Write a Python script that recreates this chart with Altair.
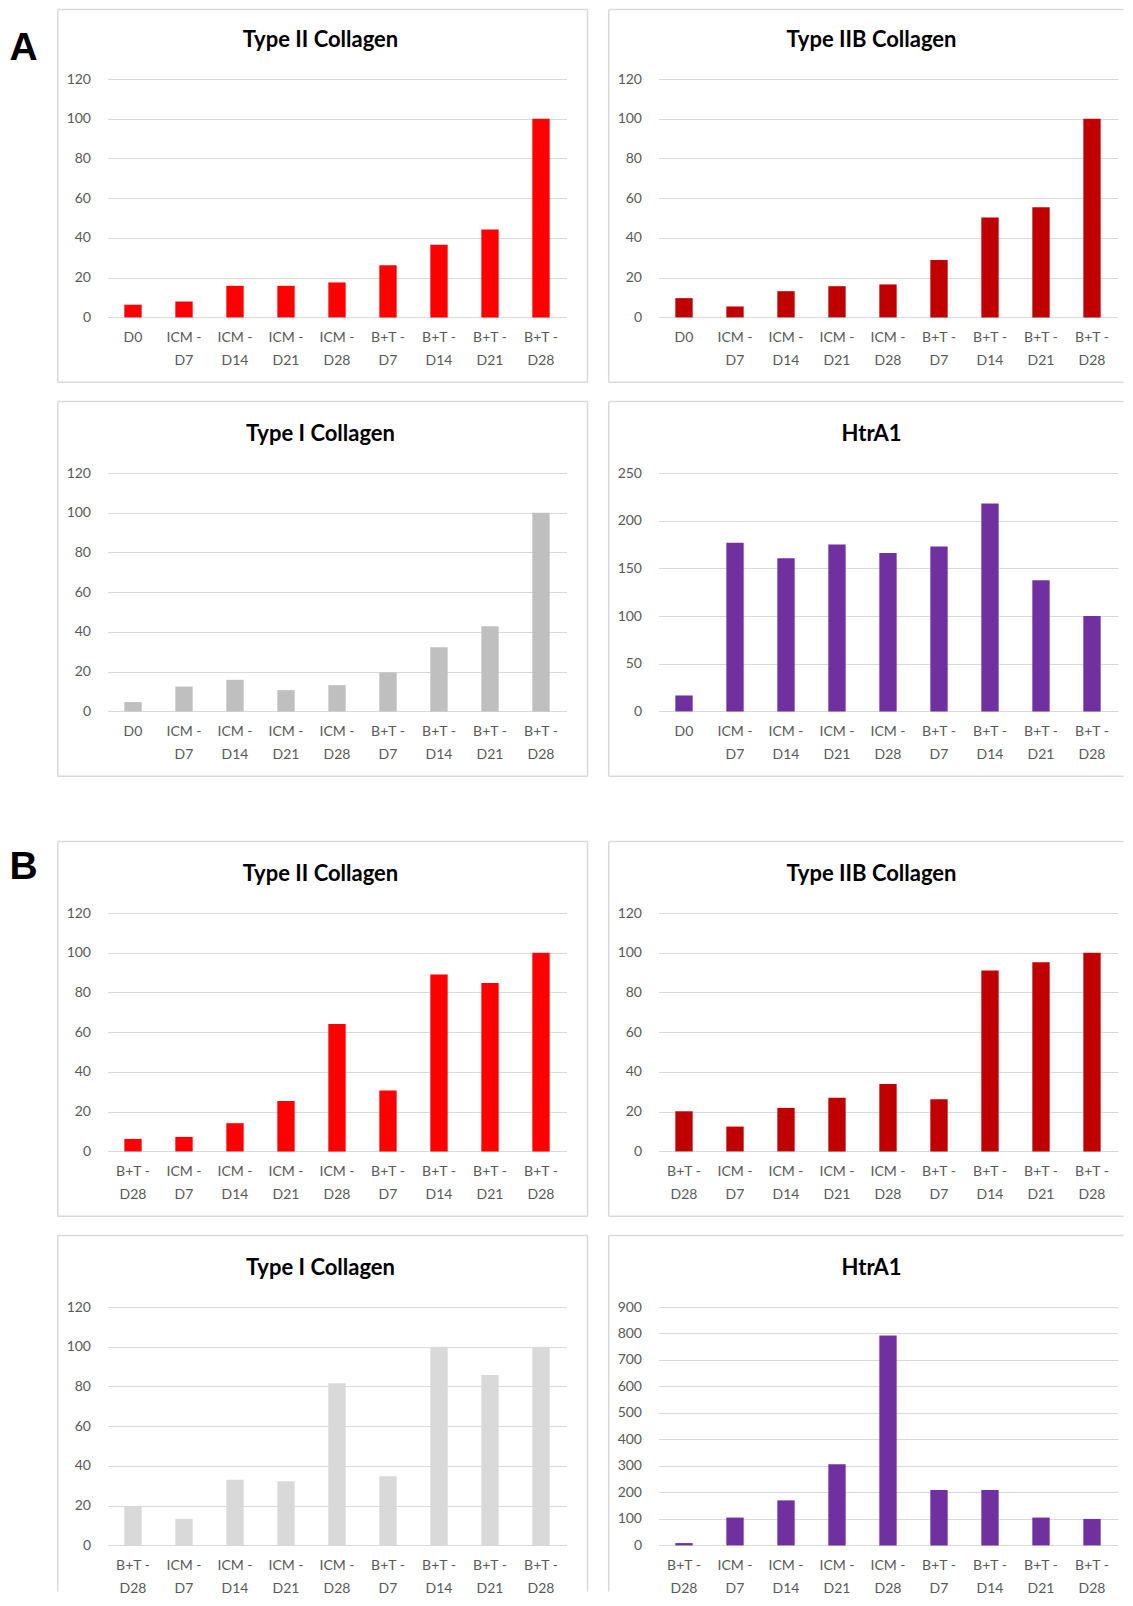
import json
import altair as alt
import pandas as pd

# ---------------- data ----------------
cats_A = ["D0", "ICM -|D7", "ICM -|D14", "ICM -|D21", "ICM -|D28",
          "B+T -|D7", "B+T -|D14", "B+T -|D21", "B+T -|D28"]
cats_B = ["B+T -|D28", "ICM -|D7", "ICM -|D14", "ICM -|D21", "ICM -|D28",
          "B+T -|D7", "B+T -|D14", "B+T -|D21", "B+T -|D28"]

A_col2 = [6.4, 8.0, 15.9, 15.9, 17.6, 26.3, 36.6, 44.3, 100]
A_col2b = [9.7, 5.5, 13.2, 15.7, 16.6, 28.9, 50.3, 55.5, 100]
A_col1 = [4.7, 12.5, 15.9, 10.7, 13.2, 19.6, 32.3, 42.8, 100]
A_htra1 = [16.7, 176.9, 160.5, 175.1, 166.1, 173.0, 218.0, 137.5, 100]

B_col2 = [6.3, 7.3, 14.2, 25.4, 64.1, 30.7, 89.1, 84.8, 100]
B_col2b = [20.2, 12.5, 21.9, 27.0, 33.9, 26.2, 91.0, 95.2, 100]
B_col1 = [19.7, 13.4, 33.1, 32.3, 81.6, 34.8, 100, 85.8, 100]
B_htra1 = [8.8, 105, 170, 306, 792, 209, 209, 105, 100]

RED = "#FF0000"
DARKRED = "#C00000"
GRAY_A = "#BFBFBF"
GRAY_B = "#D9D9D9"
PURPLE = "#7030A0"

FRAME = "#D9D9D9"
W_LEFT = 459
W_RIGHT = 465
H = 238.4
LABEL_FONT = "Lato"
LABEL_COLOR = "#595959"

one = pd.DataFrame({"k": [0]})


def vrule(x, y1, y2, color=FRAME, sw=1.5):
    return alt.Chart(one).mark_rule(color=color, strokeWidth=sw).encode(
        x=alt.value(x), y=alt.value(y1), y2=alt.value(y2))


def hrule(x1, x2, y, color=FRAME, sw=1.5):
    return alt.Chart(one).mark_rule(color=color, strokeWidth=sw).encode(
        x=alt.value(x1), x2=alt.value(x2), y=alt.value(y))


def panel(title, labels, values, color, ymax, ystep, right_col, first_row,
          last_row, letter=None, letter_y=None, spacer=False):
    W = W_RIGHT if right_col else W_LEFT
    df = pd.DataFrame({"idx": list(range(len(values))), "value": values})
    label_expr = "split(" + json.dumps(labels) + "[datum.value], '|')"
    xscale = alt.Scale(paddingInner=0.66, paddingOuter=0.33, range=[0, W_LEFT]) \
        if right_col else alt.Scale(paddingInner=0.66, paddingOuter=0.33)
    bars = alt.Chart(df).mark_bar(color=color).encode(
        x=alt.X("idx:O", title=None, sort=None, scale=xscale,
                axis=alt.Axis(labelExpr=label_expr, labelAngle=0, ticks=False,
                              tickSize=0, domain=False, grid=False,
                              labelPadding=13, labelLineHeight=23.4,
                              labelFont=LABEL_FONT, labelFontSize=14,
                              labelColor=LABEL_COLOR, labelBaseline="top",
                              labelOverlap=False)),
        y=alt.Y("value:Q", title=None,
                scale=alt.Scale(domain=[0, ymax], nice=False, zero=True),
                axis=alt.Axis(values=list(range(0, ymax + 1, ystep)),
                              domain=False, ticks=False, tickSize=0, grid=True,
                              gridColor="#D9D9D9", gridWidth=1, labelPadding=17,
                              labelFont=LABEL_FONT, labelFontSize=14,
                              labelColor=LABEL_COLOR)),
    )

    top = -69.6 if first_row else -71.6
    left = -49.8
    bottom = H + 46 if last_row else H + 64.8
    layers = []
    layers.append(vrule(left, top, bottom))
    if right_col:
        layers.append(hrule(left, W, top))
        if not last_row:
            layers.append(hrule(left, W, bottom))
    else:
        right = W + 21
        layers.append(vrule(right, top, bottom))
        layers.append(hrule(left, right, top))
        if not last_row:
            layers.append(hrule(left, right, bottom))

    layers.append(bars)

    ttl = alt.Chart(pd.DataFrame({"t": [title]})).mark_text(
        font=LABEL_FONT, fontWeight="bold", fontSize=22, color="#000000",
        align="center", baseline="middle").encode(
        text="t:N", x=alt.value(213), y=alt.value(-39))
    layers.append(ttl)

    if letter is not None:
        let = alt.Chart(pd.DataFrame({"t": [letter]})).mark_text(
            font="Liberation Sans", fontWeight="bold", fontSize=39,
            color="#000000", align="center", baseline="middle").encode(
            text="t:N", x=alt.value(-83.8), y=alt.value(letter_y))
        layers.append(let)

    if spacer:
        layers.append(hrule(0, 10, -117.85, color="#FFFFFF", sw=1))

    return alt.layer(*layers).properties(width=W, height=H)


panels = [
    panel("Type II Collagen", cats_A, A_col2, RED, 120, 20, False, True, False,
          letter="A", letter_y=-30.8),
    panel("Type IIB Collagen", cats_A, A_col2b, DARKRED, 120, 20, True, True, False),
    panel("Type I Collagen", cats_A, A_col1, GRAY_A, 120, 20, False, False, False),
    panel("HtrA1", cats_A, A_htra1, PURPLE, 250, 50, True, False, False),
    panel("Type II Collagen", cats_B, B_col2, RED, 120, 20, False, False, False,
          letter="B", letter_y=-45.9, spacer=True),
    panel("Type IIB Collagen", cats_B, B_col2b, DARKRED, 120, 20, True, False, False,
          spacer=True),
    panel("Type I Collagen", cats_B, B_col1, GRAY_B, 120, 20, False, False, True),
    panel("HtrA1", cats_B, B_htra1, PURPLE, 900, 100, True, False, True),
]

chart = alt.concat(
    *panels, columns=2,
    spacing=alt.RowColnumber(row=17, column=19),
    align="each", bounds="full",
).properties(
    padding={"left": 1.5, "top": 0, "right": 0, "bottom": 0},
    background="white",
).configure_view(strokeWidth=0)

chart.save("out.html", embed_options={"renderer": "svg", "actions": False})
